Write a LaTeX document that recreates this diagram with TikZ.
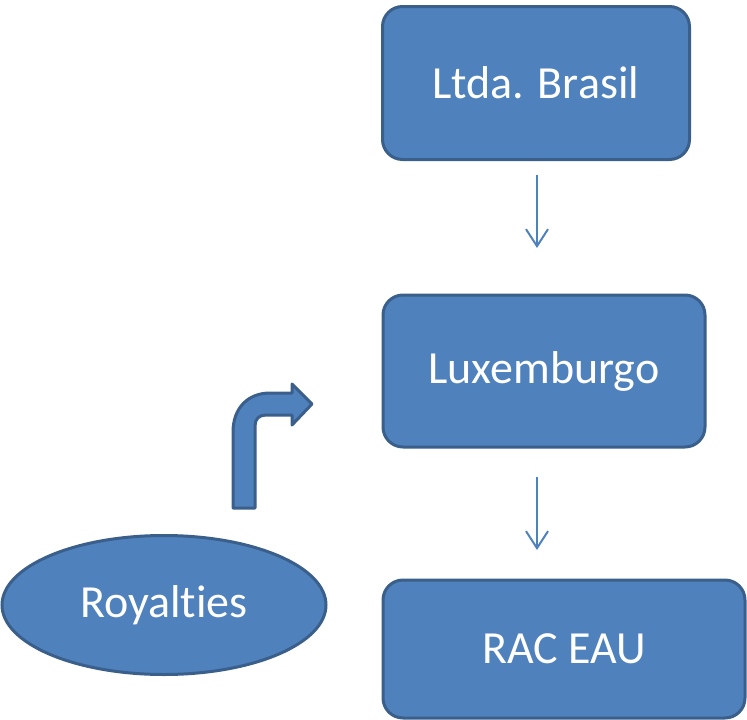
\documentclass[tikz,border=0pt]{standalone}
\usepackage{fontspec}
\setmainfont[Ligatures=NoCommon]{Carlito}
\usetikzlibrary{shapes.geometric,arrows.meta}
\definecolor{boxfill}{HTML}{4F81BD}
\definecolor{boxline}{HTML}{3A5F8B}
\tikzset{
  box/.style={draw=boxline, fill=boxfill, line width=3pt, rounded corners=20pt,
    text=white, font=\fontsize{46}{50}\selectfont, inner sep=0pt},
  oval/.style={draw=boxline, fill=boxfill, line width=3pt, ellipse,
    text=white, font=\fontsize{46}{50}\selectfont, inner sep=0pt},
  flow/.style={draw=boxfill, line width=2pt, -{Straight Barb[length=17pt,width=22pt]}},
  bent/.style={draw=boxline, fill=boxfill, line width=3pt, line join=round}
}
\begin{document}
\begin{tikzpicture}[x=1pt,y=-1pt]
\useasboundingbox (0,0) rectangle (747,720);
\node[box, minimum width=307pt, minimum height=153pt] (brasil) at (536,83) {Ltda. Brasil};
\node[box, minimum width=322pt, minimum height=152pt] (lux) at (544,371) {Luxemburgo};
\node[box, minimum width=362pt, minimum height=138pt] (rac) at (564,649) {\raisebox{-3pt}{RAC EAU}};
\node[oval, minimum width=324pt, minimum height=139pt] (roy) at (164,605) {\raisebox{-3pt}{Royalties}};
\coordinate (a1s) at (537,175);
\coordinate (a1e) at (537,248);
\coordinate (a2s) at (537,477);
\coordinate (a2e) at (537,550);
\draw[flow] (a1s) -- (a1e);
\draw[flow] (a2s) -- (a2e);
\path[bent] (233,508) -- (233,432) .. controls (233,408) and (248,393) .. (270,393)
  -- (292,393) -- (292,384) -- (312,404) -- (292,425) -- (292,415) -- (266,415)
  .. controls (259,415) and (255,419) .. (255,426) -- (255,508) -- cycle;
\end{tikzpicture}
\end{document}
